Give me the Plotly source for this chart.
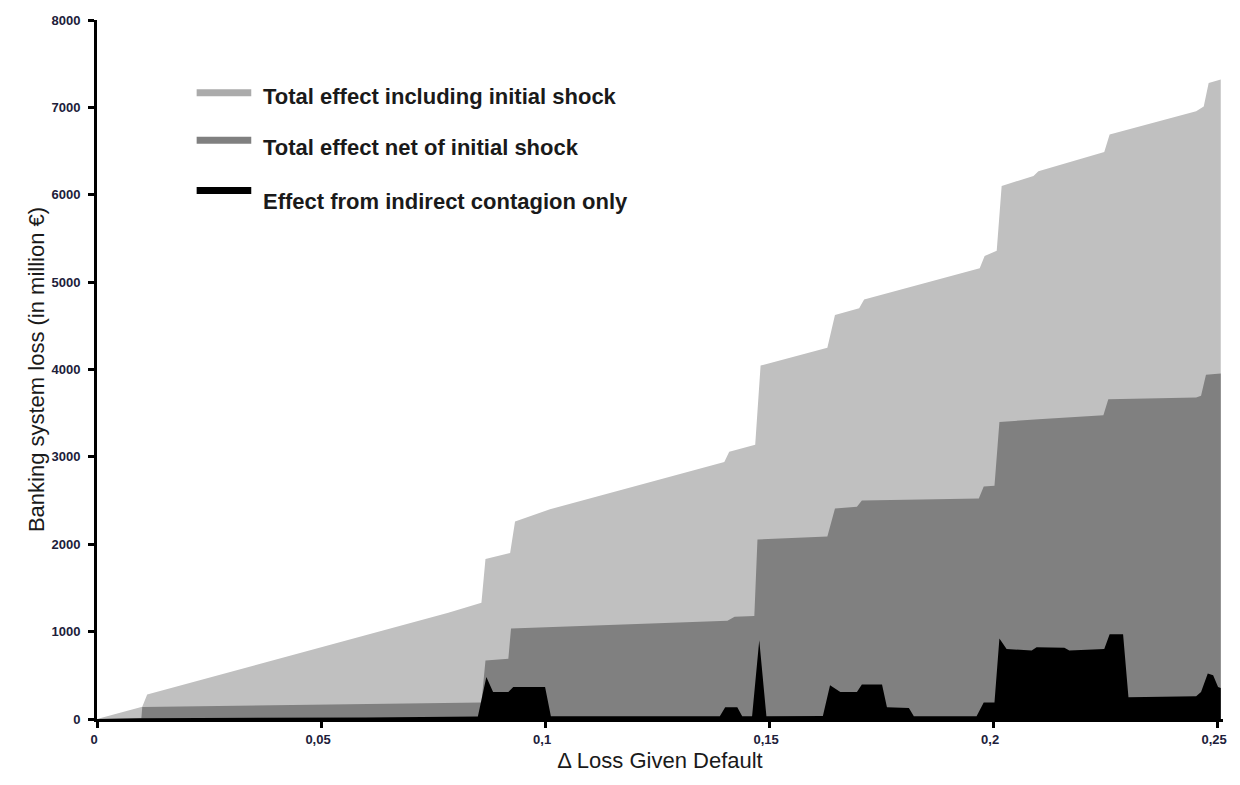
import plotly.graph_objects as go

# ---- data ----
x_total = [0, 0.0101, 0.0112, 0.0784, 0.0858, 0.0867, 0.0922, 0.0933, 0.1011, 0.1400,
           0.1411, 0.1469, 0.1481, 0.1630, 0.1647, 0.1701, 0.1712, 0.1970, 0.1981, 0.2008,
           0.2019, 0.2090, 0.2101, 0.2248, 0.2260, 0.2453, 0.2470, 0.2481, 0.2508]
y_total = [0, 140, 280, 1216, 1330, 1830, 1900, 2260, 2400, 2940,
           3060, 3140, 4045, 4250, 4625, 4700, 4800, 5160, 5300, 5360,
           6100, 6215, 6270, 6490, 6690, 6955, 7010, 7280, 7320]

x_net = [0, 0.0099, 0.0101, 0.0858, 0.0867, 0.0918, 0.0924, 0.1407, 0.1423, 0.1467,
         0.1474, 0.1630, 0.1647, 0.1696, 0.1707, 0.1968, 0.1979, 0.2003, 0.2014, 0.2092,
         0.2101, 0.2246, 0.2257, 0.2453, 0.2464, 0.2475, 0.2508]
y_net = [0, 10, 136, 190, 670, 690, 1035, 1125, 1170, 1180,
         2055, 2090, 2410, 2430, 2500, 2525, 2660, 2670, 3400, 3420,
         3430, 3475, 3660, 3680, 3700, 3940, 3955]

x_ind = [0, 0.0101, 0.0600, 0.0850, 0.0869, 0.0884, 0.0918, 0.0929, 0.1000, 0.1013,
         0.1390, 0.1402, 0.1429, 0.1440, 0.1462, 0.1478, 0.1494, 0.1620, 0.1636, 0.1659,
         0.1696, 0.1707, 0.1752, 0.1763, 0.1812, 0.1823, 0.1963, 0.1979, 0.2003, 0.2014,
         0.2030, 0.2086, 0.2097, 0.2159, 0.2170, 0.2248, 0.2260, 0.2290, 0.2302, 0.2453,
         0.2464, 0.2479, 0.2491, 0.2502, 0.2508]
y_ind = [0, 10, 18, 28, 480, 310, 310, 365, 365, 32,
         32, 135, 135, 32, 32, 900, 32, 35, 385, 310,
         310, 395, 395, 135, 125, 32, 32, 190, 190, 920,
         800, 785, 820, 815, 785, 800, 970, 970, 250, 260,
         310, 520, 500, 365, 355]

series_names = ["Total effect including initial shock",
                "Total effect net of initial shock",
                "Effect from indirect contagion only"]
fill_colors = ["#c0c0c0", "#808080", "#000000"]
legend_colors = ["#ababab", "#808080", "#000000"]

x_tickvals = [0, 0.05, 0.1, 0.15, 0.2, 0.25]
x_ticktext = ["0", "0,05", "0,1", "0,15", "0,2", "0,25"]
y_tickvals = [0, 1000, 2000, 3000, 4000, 5000, 6000, 7000, 8000]

FONT = "Liberation Sans, Arial, sans-serif"

fig = go.Figure()
for xs, ys, name, col in zip([x_total, x_net, x_ind], [y_total, y_net, y_ind],
                             series_names, fill_colors):
    fig.add_trace(go.Scatter(x=xs, y=ys, name=name, mode="lines",
                             line=dict(width=0, color=col), fill="tozeroy",
                             fillcolor=col, showlegend=False, hoverinfo="x+y+name"))

# legend drawn as swatches + text
sw_y = [0.896, 0.828, 0.756]
tx_y = [0.891, 0.818, 0.741]
for i, name in enumerate(series_names):
    fig.add_shape(type="line", xref="paper", yref="paper", x0=0.0885, x1=0.137,
                  y0=sw_y[i], y1=sw_y[i], line=dict(color=legend_colors[i], width=7))
    fig.add_annotation(xref="paper", yref="paper", x=0.146, y=tx_y[i], text="<b>%s</b>" % name,
                       showarrow=False, xanchor="left", yanchor="middle",
                       font=dict(family=FONT, size=22, color="#1a1a1a"))

# page has 8px body margin: figure is 1224x769 so the page is 1240x785
fig.update_layout(
    width=1224, height=769,
    margin=dict(l=89, r=5, t=7, b=58),
    paper_bgcolor="white", plot_bgcolor="white",
    font=dict(family=FONT, color="#1a1a1a"),
)
fig.update_xaxes(range=[0, 0.2513], tickvals=x_tickvals, ticktext=x_ticktext,
                 showgrid=False, zeroline=False, showline=True, linecolor="black", linewidth=3,
                 ticks="outside", ticklen=6, tickwidth=2.5, tickcolor="black",
                 ticklabelshift=-3,
                 tickfont=dict(family=FONT, size=13, color="#20203a", weight="bold"),
                 title=dict(text="Δ Loss Given Default", standoff=8,
                            font=dict(family=FONT, size=22, color="#1a1a1a")))
fig.update_yaxes(range=[0, 8000], tickvals=y_tickvals,
                 showgrid=False, zeroline=False, showline=True, linecolor="black", linewidth=3,
                 ticks="outside", ticklen=6, tickwidth=2.5, tickcolor="black",
                 ticklabelstandoff=5, ticklabeloverflow="allow",
                 tickfont=dict(family=FONT, size=13, color="#20203a", weight="bold"),
                 title=dict(text="Banking system loss (in million €)", standoff=1,
                            font=dict(family=FONT, size=22, color="#1a1a1a")))

fig.write_html("out.html")
